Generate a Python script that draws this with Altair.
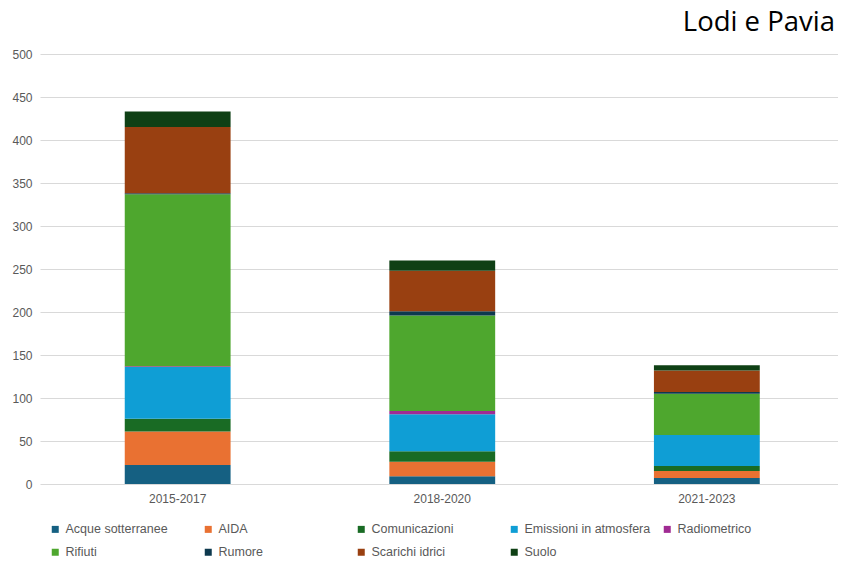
import altair as alt
import pandas as pd

periods = ["2015-2017", "2018-2020", "2021-2023"]
categories = ["Acque sotterranee", "AIDA", "Comunicazioni", "Emissioni in atmosfera",
              "Radiometrico", "Rifiuti", "Rumore", "Scarichi idrici", "Suolo"]
colors = ["#156082", "#E97132", "#196B24", "#0F9ED5", "#A02B93",
          "#4EA72E", "#0D394E", "#994011", "#0F4015"]

acque = [22, 9, 7]
aida = [39, 17, 8]
comunicazioni = [15, 12, 6]
emissioni = [60, 43, 36]
radiometrico = [1, 4, 0]
rifiuti = [200, 111, 48]
rumore = [1, 5, 2]
scarichi = [77, 47, 25]
suolo = [18, 12, 6]

series = [acque, aida, comunicazioni, emissioni, radiometrico, rifiuti, rumore, scarichi, suolo]

rows = []
for ci, (cat, vals) in enumerate(zip(categories, series)):
    for p, v in zip(periods, vals):
        rows.append({"periodo": p, "categoria": cat, "valore": v, "ord": ci})
df = pd.DataFrame(rows)

font = "Liberation Sans"

chart = alt.Chart(df).mark_bar().encode(
    x=alt.X("periodo:N", sort=periods, title=None,
            scale=alt.Scale(paddingInner=0.6, paddingOuter=0.308, align=0.52),
            axis=alt.Axis(labelAngle=0, ticks=False, domain=False, labelPadding=9,
                          labelFontSize=12, labelColor="#595959", labelFont=font)),
    y=alt.Y("valore:Q", stack="zero", title=None,
            scale=alt.Scale(domain=[0, 500], nice=False),
            axis=alt.Axis(values=list(range(0, 501, 50)), ticks=False, domain=False,
                          labelPadding=8, labelFontSize=12, labelColor="#595959",
                          labelFont=font, gridColor="#D9D9D9", gridWidth=1)),
    color=alt.Color("categoria:N", sort=categories,
                    scale=alt.Scale(domain=categories, range=colors),
                    legend=alt.Legend(title=None, orient="none", legendX=9, legendY=469,
                                      direction="horizontal", columns=5, gridAlign="all",
                                      columnPadding=10, rowPadding=10,
                                      symbolType="square", symbolSize=49, symbolStrokeWidth=0,
                                      labelFontSize=12.5, labelColor="#595959", labelFont=font,
                                      labelOffset=4)),
    order=alt.Order("ord:Q", sort="ascending"),
).properties(
    width=798, height=430,
    autosize=alt.AutoSizeParams(type="none"),
    padding={"left": 32, "top": 46, "right": 0, "bottom": 80},
    title=alt.TitleParams("Lodi e Pavia", anchor="end", fontSize=27.5, fontWeight="normal",
                          font="Open Sans", color="#000000", offset=12, dx=-3),
).configure_view(stroke=None)

chart.save("out.html", embed_options={"renderer": "svg", "actions": False})
